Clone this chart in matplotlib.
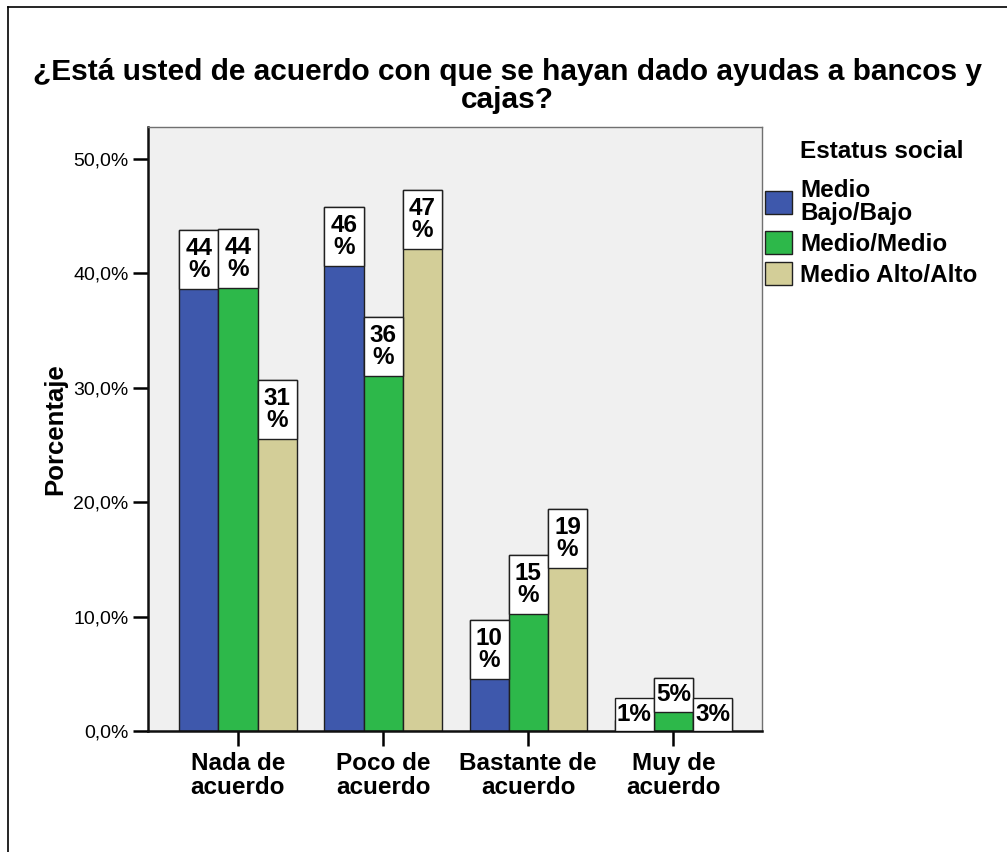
import matplotlib
matplotlib.use("Agg")
import matplotlib.pyplot as plt
import numpy as np
from matplotlib.patches import Patch
from matplotlib.ticker import FuncFormatter

plt.rcParams["font.family"] = ["Liberation Sans", "DejaVu Sans"]

categories = ["Nada de\nacuerdo", "Poco de\nacuerdo", "Bastante de\nacuerdo", "Muy de\nacuerdo"]
groups = ["Medio\nBajo/Bajo", "Medio/Medio", "Medio Alto/Alto"]
bajo = [43.8, 45.8, 9.7, 1.0]
medio = [43.9, 36.2, 15.4, 4.6]
alto = [30.7, 47.3, 19.4, 2.8]
colors = ["#3e58ac", "#2db84a", "#d3ce98"]

W, H = 1007, 852
fig = plt.figure(figsize=(W / 100, H / 100), dpi=100)
ax = fig.add_axes([148 / W, 1 - 731 / H, (762 - 148) / W, (731 - 127) / H])
ax.set_facecolor("#f0f0f0")

# outer frame (top and left only visible)
fig.add_artist(plt.Line2D([8 / W, 8 / W], [0, 1 - 7 / H], color="black", lw=1.2))
fig.add_artist(plt.Line2D([8 / W, 1], [1 - 7 / H, 1 - 7 / H], color="black", lw=1.2))

x = np.arange(len(categories))
bw = 0.27
for i, (vals, col) in enumerate(zip([bajo, medio, alto], colors)):
    xs = x + (i - 1) * bw
    ax.bar(xs, vals, width=bw, color=col, edgecolor="#202020", linewidth=1.0, zorder=2)
    for xi, v in zip(xs, vals):
        r = int(round(v))
        if v < 6:
            bh = 2.9
            top = max(v, bh)
            txt = f"{r}%"
        else:
            bh = 5.15
            top = v
            txt = f"{r}\n%"
        ax.bar(xi, bh, bottom=top - bh, width=bw, color="white",
               edgecolor="#202020", linewidth=1.0, zorder=3)
        ax.text(xi, top - bh / 2, txt, ha="center", va="center", fontsize=17.5,
                fontweight="bold", linespacing=0.97, zorder=4)

ax.set_xlim(-0.62, 3.61)
ax.set_ylim(0, 52.8)
ax.set_yticks([0, 10, 20, 30, 40, 50])
ax.yaxis.set_major_formatter(FuncFormatter(lambda v, p: f"{v:.1f}%".replace(".", ",")))
ax.set_xticks(x)
ax.set_xticklabels(categories, fontsize=17.5, fontweight="bold", linespacing=1.05)
ax.tick_params(axis="y", length=11, width=1.8, labelsize=14, pad=3)
ax.tick_params(axis="x", length=11, width=1.8, pad=4)
ax.set_ylabel("Porcentaje", fontsize=18.5, fontweight="bold", labelpad=4)
for s in ["left", "bottom"]:
    ax.spines[s].set_linewidth(1.8)
    ax.spines[s].set_color("#101010")
for s in ["top", "right"]:
    ax.spines[s].set_linewidth(1.0)
    ax.spines[s].set_color("#707070")

fig.text(507 / W, 1 - 86 / H,
         "¿Está usted de acuerdo con que se hayan dado ayudas a bancos y\ncajas?",
         ha="center", va="center", fontsize=21.5, fontweight="bold", linespacing=1.0)

fig.text(800 / W, 1 - 151 / H, "Estatus social", ha="left", va="center",
         fontsize=17.5, fontweight="bold")
handles = [Patch(facecolor=c, edgecolor="#202020", linewidth=1.0) for c in colors]
fig.legend(handles, groups, loc="upper left", bbox_to_anchor=(765 / W, 1 - 179 / H),
           frameon=False, borderpad=0, borderaxespad=0, handlelength=1.1,
           handleheight=1.1, handletextpad=0.35, labelspacing=0.25,
           prop={"size": 17.5, "weight": "bold"})
for t in fig.legends[0].get_texts():
    t.set_linespacing(1.0)

fig.savefig("out.png", dpi=100)
